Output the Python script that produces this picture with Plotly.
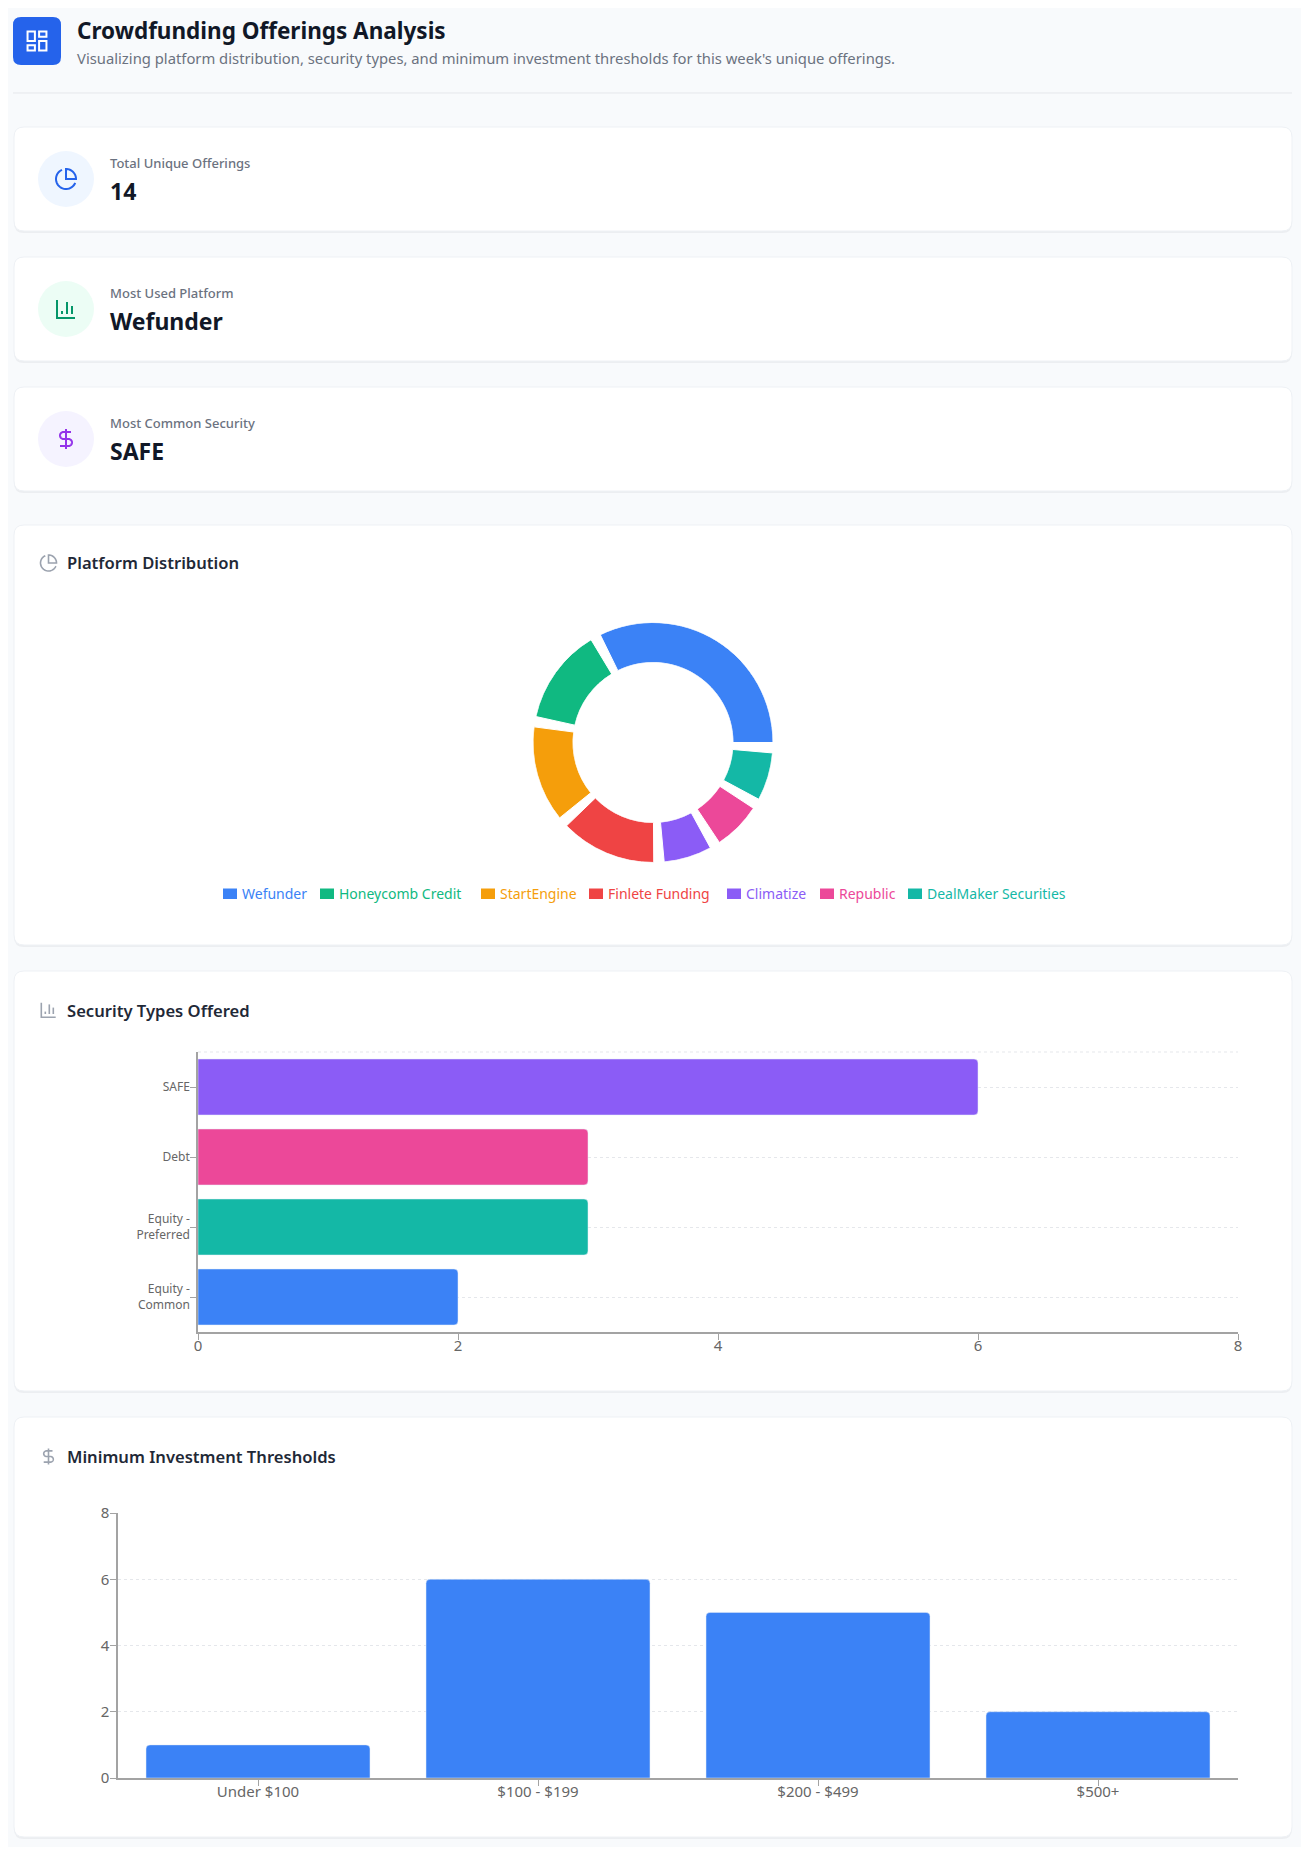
import math
import plotly.graph_objects as go

# ---------------- data ----------------
KPI_LABELS = ["Total Unique Offerings", "Most Used Platform", "Most Common Security"]
KPI_VALUES = ["14", "Wefunder", "SAFE"]

PLATFORMS = ["Wefunder", "Honeycomb Credit", "StartEngine", "Finlete Funding",
             "Climatize", "Republic", "DealMaker Securities"]
PLATFORM_COUNTS = [5, 2, 2, 2, 1, 1, 1]

SECURITY_TYPES = ["SAFE", "Debt", "Equity - Preferred", "Equity - Common"]
SECURITY_COUNTS = [6, 3, 3, 2]

THRESHOLDS = ["Under $100", "$100 - $199", "$200 - $499", "$500+"]
THRESHOLD_COUNTS = [1, 6, 5, 2]

COUNT_TICKS = [0, 2, 4, 6, 8]

# ---------------- styles ----------------
PLATFORM_COLORS = ["#3b82f6", "#10b981", "#f59e0b", "#ef4444", "#8b5cf6", "#ec4899", "#14b8a6"]
SECURITY_COLORS = ["#8b5cf6", "#ec4899", "#14b8a6", "#3b82f6"]
BAR_BLUE = "#3b82f6"
PAGE_BG = "#f8fafc"
AXIS_C = "#a3a3a3"
TICK_C = "#666666"
GRID_C = "#e5e7eb"
FONT = "Noto Sans"

PAGE_W, PAGE_H = 1309, 1855
OFF = 8  # default body margin of the html page
FW, FH = PAGE_W - 2 * OFF, PAGE_H - 2 * OFF


def X(px):
    return (px - OFF) / FW


def Y(py):
    return 1 - (py - OFF) / FH


def rrect(x0, y0, x1, y1, r):
    return (f"M{X(x0 + r)},{Y(y0)} L{X(x1 - r)},{Y(y0)} Q{X(x1)},{Y(y0)} {X(x1)},{Y(y0 + r)} "
            f"L{X(x1)},{Y(y1 - r)} Q{X(x1)},{Y(y1)} {X(x1 - r)},{Y(y1)} "
            f"L{X(x0 + r)},{Y(y1)} Q{X(x0)},{Y(y1)} {X(x0)},{Y(y1 - r)} "
            f"L{X(x0)},{Y(y0 + r)} Q{X(x0)},{Y(y0)} {X(x0 + r)},{Y(y0)} Z")


def arc(cx, cy, r, a0, a1, n=28):
    pts = []
    for k in range(n + 1):
        a = math.radians(a0 + (a1 - a0) * k / n)
        pts.append((cx + r * math.cos(a), cy + r * math.sin(a)))
    return pts


def icon_polys(kind):
    if kind == "pie":
        return [(arc(12, 12, 10, 22.9, 246.4), False),
                ([(22, 12)] + arc(12, 12, 10, 0, -90)[1:] + [(12, 12)], True)]
    if kind == "bar":
        return [([(3, 3), (3, 21), (21, 21)], False),
                ([(18, 17), (18, 9)], False),
                ([(13, 17), (13, 5)], False),
                ([(8, 17), (8, 14)], False)]
    if kind == "dollar":
        return [([(12, 2), (12, 22)], False),
                ([(17, 5), (9.5, 5)] + arc(9.5, 8.5, 3.5, -90, -270)[1:] + [(14.5, 12)]
                 + arc(14.5, 15.5, 3.5, -90, 90)[1:] + [(6, 19)], False)]
    if kind == "dash":
        out = []
        for (rx, ry, rw, rh) in [(3, 3, 7, 9), (14, 3, 7, 5), (14, 12, 7, 9), (3, 16, 7, 5)]:
            out.append(([(rx, ry), (rx + rw, ry), (rx + rw, ry + rh), (rx, ry + rh)], True))
        return out
    return []


def icon_shapes(kind, cx, cy, s, color, lw):
    shapes = []
    for pts, closed in icon_polys(kind):
        d = ""
        for i, (u, v) in enumerate(pts):
            px = cx + (u - 12) * s
            py = cy + (v - 12) * s
            d += ("M" if i == 0 else " L") + f"{X(px)},{Y(py)}"
        if closed:
            d += " Z"
        shapes.append(dict(type="path", path=d, xref="paper", yref="paper",
                           line=dict(color=color, width=lw), fillcolor="rgba(0,0,0,0)", layer="above"))
    return shapes


def text(x, y, t, size, color, weight=400, anchor="left"):
    return dict(x=X(x), y=Y(y), xref="paper", yref="paper", text=t, showarrow=False,
                xanchor=anchor, yanchor="middle",
                font=dict(family=FONT, size=size, color=color, weight=weight))


fig = go.Figure()

# ---------------- donut (platform distribution) ----------------
PAD = 5
unit = (360 - PAD * len(PLATFORMS)) / sum(PLATFORM_COUNTS)
thetas, widths = [], []
start = 0
for v in PLATFORM_COUNTS:
    w = v * unit
    thetas.append(start + w / 2)
    widths.append(w)
    start += w + PAD
fig.add_trace(go.Barpolar(r=[1] * len(PLATFORMS), theta=thetas, width=widths,
                          marker=dict(color=PLATFORM_COLORS, line=dict(color="white", width=1)),
                          text=PLATFORMS, customdata=PLATFORM_COUNTS,
                          hovertemplate="%{text}: %{customdata}<extra></extra>",
                          showlegend=False, subplot="polar"))

# ---------------- security types (horizontal bars) ----------------
fig.add_trace(go.Bar(x=SECURITY_COUNTS, y=SECURITY_TYPES, orientation="h",
                     marker=dict(color=SECURITY_COLORS, cornerradius=4),
                     showlegend=False, xaxis="x", yaxis="y",
                     hovertemplate="%{y}: %{x}<extra></extra>"))

# ---------------- minimum investment thresholds ----------------
fig.add_trace(go.Bar(x=THRESHOLDS, y=THRESHOLD_COUNTS,
                     marker=dict(color=BAR_BLUE, cornerradius=4),
                     showlegend=False, xaxis="x2", yaxis="y2",
                     hovertemplate="%{x}: %{y}<extra></extra>"))

# ---------------- page decoration ----------------
shapes = []
CL, CR = 14, 1292
cards = [(127, 231), (257, 361), (387, 491), (525, 945), (971, 1391), (1417, 1837)]
for (t, b) in cards:
    shapes.append(dict(type="path", path=rrect(CL, t + 1, CR, b + 2, 10), xref="paper", yref="paper",
                       fillcolor="rgba(15,23,42,0.05)", line=dict(width=0), layer="below"))
    shapes.append(dict(type="path", path=rrect(CL, t, CR, b, 10), xref="paper", yref="paper",
                       fillcolor="#ffffff", line=dict(color="#eef1f5", width=1), layer="below"))

# header
shapes.append(dict(type="path", path=rrect(13, 17, 61, 65, 8), xref="paper", yref="paper",
                   fillcolor="#2563eb", line=dict(width=0), layer="below"))
shapes += icon_shapes("dash", 37, 41, 1.05, "white", 2)
shapes.append(dict(type="line", x0=X(13), x1=X(1292), y0=Y(93), y1=Y(93), xref="paper", yref="paper",
                   line=dict(color="#e5e7eb", width=1), layer="below"))

# KPI icons
kpi_icons = [("pie", "#eff6ff", "#2563eb"), ("bar", "#ecfdf5", "#059669"), ("dollar", "#f5f3ff", "#9333ea")]
for (t, b), (kind, bg, fg) in zip(cards[:3], kpi_icons):
    cy = t + 52
    shapes.append(dict(type="circle", x0=X(38), x1=X(94), y0=Y(cy + 28), y1=Y(cy - 28),
                       xref="paper", yref="paper", fillcolor=bg, line=dict(width=0), layer="below"))
    shapes += icon_shapes(kind, 66, cy, 1.0, fg, 2)

# section icons
for kind, cy in [("pie", 563), ("bar", 1010), ("dollar", 1456.5)]:
    shapes += icon_shapes(kind, 48.5, cy, 0.8, "#9ca3af", 1.6)

# top grid line of horizontal bar chart
shapes.append(dict(type="line", x0=X(198), x1=X(1238), y0=Y(1052), y1=Y(1052), xref="paper", yref="paper",
                   line=dict(color=GRID_C, width=1, dash="3px,3px"), layer="below"))

# legend icons
LEG_X = [223, 320, 481, 589, 727, 820, 908]
for lx, c in zip(LEG_X, PLATFORM_COLORS):
    shapes.append(dict(type="rect", x0=X(lx), x1=X(lx + 14), y0=Y(899), y1=Y(888.5),
                       xref="paper", yref="paper", fillcolor=c, line=dict(width=0), layer="above"))

annotations = [
    text(75, 31, "Crowdfunding Offerings Analysis", 22.5, "#111827", 700),
    text(75, 58, "Visualizing platform distribution, security types, and minimum investment thresholds "
                 "for this week's unique offerings.", 14.8, "#6b7280"),
]
for (t, b), lab, val in zip(cards[:3], KPI_LABELS, KPI_VALUES):
    annotations.append(text(108, t + 36, lab, 13, "#6b7280", 500))
    annotations.append(text(108, t + 64, val, 23, "#111827", 700))

annotations.append(text(64.5, 563, "Platform Distribution", 16.6, "#1f2937", 600))
annotations.append(text(64.5, 1010, "Security Types Offered", 16.6, "#1f2937", 600))
annotations.append(text(64.5, 1456.5, "Minimum Investment Thresholds", 16.6, "#1f2937", 600))

for lx, name, c in zip(LEG_X, PLATFORMS, PLATFORM_COLORS):
    annotations.append(text(lx + 17, 893, name, 14, c))

axis_common = dict(showline=True, linecolor=AXIS_C, ticks="outside", ticklen=6, tickcolor=AXIS_C,
                   tickwidth=1, zeroline=False, automargin=False,
                   tickfont=dict(family=FONT, size=15, color=TICK_C))

fig.update_layout(
    width=FW, height=FH,
    margin=dict(l=0, r=0, t=0, b=0, pad=0, autoexpand=False),
    paper_bgcolor=PAGE_BG, plot_bgcolor="rgba(0,0,0,0)",
    font=dict(family=FONT, color=TICK_C),
    bargap=0.2,
    showlegend=False,
    polar=dict(domain=dict(x=[X(653 - 120), X(653 + 120)], y=[Y(742.5 + 120), Y(742.5 - 120)]),
               hole=80 / 120, bgcolor="rgba(0,0,0,0)",
               radialaxis=dict(range=[0, 1], visible=False, showgrid=False),
               angularaxis=dict(visible=False, showgrid=False, rotation=0, direction="counterclockwise")),
    xaxis=dict(domain=[X(198), X(1238)], range=[0, 8], tickvals=COUNT_TICKS, showgrid=False,
               linewidth=2, anchor="y", ticklabelstandoff=-7, **axis_common),
    yaxis=dict(domain=[Y(1332), Y(1052)], type="category", range=[len(SECURITY_TYPES) - 0.5, -0.5],
               tickvals=SECURITY_TYPES, ticktext=[s.replace(" - ", " -<br>") for s in SECURITY_TYPES],
               showgrid=True, gridcolor=GRID_C, griddash="3px,3px", gridwidth=1,
               linewidth=1.5, anchor="x", ticklabelstandoff=-2,
               **{k: v for k, v in axis_common.items() if k != "tickfont"},
               tickfont=dict(family=FONT, size=12, color=TICK_C)),
    xaxis2=dict(domain=[X(118), X(1238)], type="category", showgrid=False, linewidth=2, anchor="y2",
                ticklabelstandoff=-7, **axis_common),
    yaxis2=dict(domain=[Y(1778), Y(1513)], range=[0, 8], tickvals=COUNT_TICKS,
                showgrid=True, gridcolor=GRID_C, griddash="3px,3px", gridwidth=1,
                linewidth=1.5, anchor="x2", ticklabelstandoff=-2, **axis_common),
    shapes=shapes,
    annotations=annotations,
)

fig.write_html("out.html")
